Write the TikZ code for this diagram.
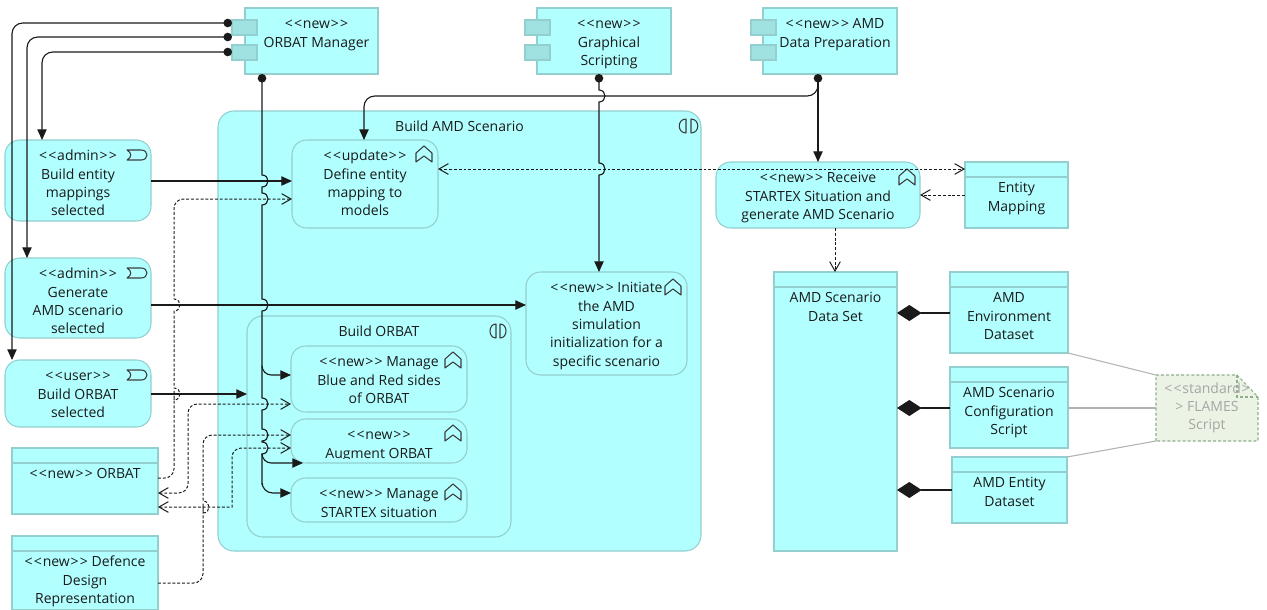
\documentclass[tikz,border=0pt]{standalone}
\usepackage{fontspec}
\setmainfont{Open Sans}
\usetikzlibrary{arrows.meta,calc}
\definecolor{cy}{HTML}{B2FFFF}
\definecolor{bd}{HTML}{93CFCF}
\definecolor{lug}{HTML}{A0E2E2}
\definecolor{ink}{HTML}{1A1A1A}
\definecolor{notef}{HTML}{EAF3E4}
\definecolor{noted}{HTML}{8FAE8F}
\tikzset{
 x=0.75pt,y=-0.75pt,
 sq/.style={draw=bd,fill=cy,line width=0.8pt,inner sep=0pt,outer sep=0pt,text=ink},
 rd/.style={sq,rounded corners=11pt},
 grp/.style={sq,rounded corners=12pt},
 lugbox/.style={draw=bd,fill=lug,line width=0.8pt,inner sep=0pt,outer sep=0pt,minimum width=18.75pt,minimum height=11.25pt},
 flow/.style={draw=ink,line width=0.85pt,-{Triangle[length=8pt,width=7pt]}},
 dotflow/.style={draw=ink,line width=0.85pt,{Circle[length=6.4pt]}-{Triangle[length=8pt,width=7pt]}},
 dep/.style={draw=ink,line width=0.75pt,dash pattern=on 2.2pt off 1.4pt},
 dep1/.style={dep,-{Straight Barb[length=7pt,width=8pt]}},
 dep2/.style={dep,{Straight Barb[length=7pt,width=8pt]}-{Straight Barb[length=7pt,width=8pt]}},
 assoc/.style={draw=ink,line width=0.85pt,-{Diamond[length=18.5pt,width=12pt]}},
 iconln/.style={draw=ink!85,line width=0.8pt,line join=round},
 hdr/.style={draw=bd,line width=0.8pt},
 noteline/.style={draw=black!30,line width=0.8pt},
 noteedge/.style={dash pattern=on 2.2pt off 1.6pt,draw=noted,line width=0.8pt},
}
\newcommand\bx[8]{%
 \pgfmathsetlengthmacro\bw{(#4-#2)*0.75pt}%
 \pgfmathsetlengthmacro\bh{(#5-#3)*0.75pt}%
 \node[#6] (#1) at ({(#2+#4)/2},{(#3+#5)/2}) {\parbox[c][\bh][t]{\bw}{\centering\fontsize{10.5}{13.75}\selectfont\vspace*{#7}\strut #8}};}
\newcommand\st[1]{<\kern1pt<\kern.6pt #1\kern.6pt>\kern1pt>}
\newcommand\hpd[2]{-- ({#1},{#2-6}) .. controls ({#1+8},{#2-6}) and ({#1+8},{#2+6}) .. ({#1},{#2+6})}
\newcommand\hpu[2]{-- ({#1},{#2+6}) .. controls ({#1+8},{#2+6}) and ({#1+8},{#2-6}) .. ({#1},{#2-6})}
\newcommand\fnicon[2]{\draw[iconln,shift={(#1,#2)}] (0,16) -- (0,7) -- (8,0) -- (16,7) -- (16,16) -- (8,10) -- cycle;}
\newcommand\svcicon[2]{\draw[iconln,shift={(#1,#2)}] (0,0) -- (14,0) .. controls (22,0) and (22,10) .. (14,10) -- (0,10) .. controls (5,7) and (5,3) .. (0,0) -- cycle;}
\begin{document}
\begin{tikzpicture}
\useasboundingbox (0,0) rectangle (1267,610);
% components
\bx{mgr}{245}{8}{378}{74}{sq}{6pt}{\leftskip=7.5pt plus 1fil \st{new}\\ORBAT Manager}
\node[lugbox] (mgrA) at (244.5,27.5) {};
\node[lugbox] (mgrB) at (244.5,52.5) {};
\bx{gs}{537}{8}{671}{74}{sq}{6pt}{\leftskip=7.5pt plus 1fil \st{new}\\Graphical\\Scripting}
\node[lugbox] (gsA) at (537.5,27.5) {};
\node[lugbox] (gsB) at (537.5,52.5) {};
\bx{prep}{763}{8}{897}{74}{sq}{6pt}{\leftskip=7.5pt plus 1fil \st{new} AMD\\Data Preparation}
\node[lugbox] (prepA) at (763.5,27.5) {};
\node[lugbox] (prepB) at (763.5,52.5) {};
% group
\bx{amd}{218}{111}{701}{551}{grp}{6pt}{Build AMD Scenario}
\draw[iconln] (686,119) .. controls (677,119) and (677,133) .. (686,133) -- cycle;
\draw[iconln] (691,119) .. controls (700,119) and (700,133) .. (691,133) -- cycle;
\bx{def}{292}{140}{438}{228}{rd}{6pt}{\st{update}\\Define entity\\mapping to\\models}
\fnicon{416}{146}
\bx{init}{526}{272}{687}{375}{rd}{6pt}{\st{new} Initiate\\the AMD\\simulation\\initialization for a\\specific scenario}
\fnicon{665}{279}
\bx{bo}{247}{316}{511}{537}{grp}{6pt}{Build ORBAT}
\draw[iconln] (496,324) .. controls (488,324) and (488,338) .. (496,338) -- cycle;
\draw[iconln] (500,324) .. controls (508,324) and (508,338) .. (500,338) -- cycle;
\bx{blue}{291}{346}{467}{412}{rd}{6pt}{\st{new} Manage\\Blue and Red sides\\of ORBAT}
\fnicon{445}{352}
\bx{aug}{291}{419}{467}{463}{rd}{6pt}{\st{new}\\Augment ORBAT}
\fill[cy] (320,458.5) rectangle (440,462.3);
\fnicon{445}{425}
\bx{star}{291}{478}{467}{522}{rd}{6pt}{\st{new} Manage\\STARTEX situation}
\fnicon{445}{484}
% services
\bx{bes}{5}{140}{151}{221}{rd}{6pt}{\st{admin}\\Build entity\\mappings\\selected}
\svcicon{127}{150}
\bx{gen}{5}{258}{151}{338}{rd}{6pt}{\st{admin}\\Generate\\AMD scenario\\selected}
\svcicon{127}{268}
\bx{bos}{5}{360}{151}{427}{rd}{6pt}{\st{user}\\Build ORBAT\\selected}
\svcicon{127}{370}
% data
\bx{orb}{12}{448}{158}{514}{sq}{13.5pt}{\st{new} ORBAT}
\draw[hdr] (orb.west |- 0,463) -- (orb.east |- 0,463);
\bx{ddr}{12}{536}{158}{610}{sq}{13.5pt}{\st{new} Defence\\Design\\Representation}
\draw[hdr] (ddr.west |- 0,551) -- (ddr.east |- 0,551);
\bx{recv}{716}{162}{920}{228}{rd}{6pt}{\st{new} Receive\\STARTEX Situation and\\generate AMD Scenario}
\fnicon{899}{169}
\bx{emap}{965}{162}{1068}{228}{sq}{13.5pt}{Entity\\Mapping}
\draw[hdr] (emap.west |- 0,177) -- (emap.east |- 0,177);
\bx{ds}{774}{272}{897}{551}{sq}{13.5pt}{AMD Scenario\\Data Set}
\draw[hdr] (ds.west |- 0,287) -- (ds.east |- 0,287);
\bx{env}{950}{272}{1068}{353}{sq}{13.5pt}{AMD\\Environment\\Dataset}
\draw[hdr] (env.west |- 0,287) -- (env.east |- 0,287);
\bx{cfg}{950}{367}{1068}{448}{sq}{13.5pt}{AMD Scenario\\Configuration\\Script}
\draw[hdr] (cfg.west |- 0,382) -- (cfg.east |- 0,382);
\bx{ent}{952}{457}{1067}{523}{sq}{13.5pt}{AMD Entity\\Dataset}
\draw[hdr] (ent.west |- 0,472) -- (ent.east |- 0,472);
% note
\fill[notef] (1156,441) -- (1156,375) -- (1237,375) -- (1258,397) -- (1258,441) -- cycle;
\draw[noteedge] (1156,441) -- (1156,375) -- (1237,375) -- (1258,397) -- (1258,441) -- cycle;
\draw[noteedge] (1237,375) -- (1237,397) -- (1258,397);
\node[inner sep=0pt,outer sep=0pt,minimum width=76.5pt,minimum height=49.5pt,text=black!35,align=center,font=\fontsize{10.5}{13.75}\selectfont] (note) at (1207,408) {<\kern1pt<\kern.6pt standard\kern.6pt>\\> FLAMES\\Script};
\draw[noteline] (env.south east) -- (note.north west);
\draw[noteline] (cfg.east |- note.west) -- (note.west);
\draw[noteline] (ent.north east) -- (note.south west);
% component -> services
\draw[dotflow,rounded corners=8pt] (mgrA.west |- 0,23) -- (12,23) -- (12,0 |- bos.north);
\draw[dotflow,rounded corners=8pt] (mgrA.west |- 0,37) -- (27,37) -- (27,0 |- gen.north);
\draw[dotflow,rounded corners=8pt] (mgrB.west |- 0,52) -- (42,52) -- (42,0 |- bes.north);
% trunk
\draw[dotflow] (262,0 |- mgr.south) \hpd{262}{181} \hpd{262}{199} \hpd{262}{305} \hpd{262}{404} \hpd{262}{435} \hpd{262}{448} -- (262,485) [rounded corners=8pt] -- (262,493) -- (star.west |- 0,493);
\draw[flow,rounded corners=7pt] (262,366) -- (262,375) -- (blue.west |- 0,375);
\draw[flow,rounded corners=7pt] (262,455) -- (262,463) -- (303,463);
% solid flows
\draw[flow] (bes.east |- 0,181) -- (def.west |- 0,181);
\draw[flow] (gen.east |- 0,305) -- (init.west |- 0,305);
\draw[flow] (bos.east |- 0,394) -- (bo.west |- 0,394);
\draw[dotflow] (599,0 |- gs.south) \hpd{599}{96} \hpd{599}{169} -- (599,0 |- init.north);
\draw[dotflow] (prep.south -| recv.north) -- (recv.north);
\draw[flow,rounded corners=8pt] (818,88) -- (818,96) -- (364,96) -- (364,0 |- def.north);
% dashed
\draw[dep1] (orb.east |- 0,478) [rounded corners=7pt] -- (174,478) -- (174,400) [sharp corners] \hpu{174}{394} \hpu{174}{305} [rounded corners=7pt] -- (174,199) -- (def.west |- 0,199);
\draw[dep2] (orb.east |- 0,493) [rounded corners=7pt] -- (188,493) -- (188,404) -- (blue.west |- 0,404);
\draw[dep2] (orb.east |- 0,507) -- (232,507) [rounded corners=7pt] -- (232,448) -- (aug.west |- 0,448);
\draw[dep1] (ddr.east |- 0,583) [rounded corners=7pt] -- (203,583) -- (203,513) [sharp corners] \hpu{203}{507} [rounded corners=7pt] -- (203,435) -- (aug.west |- 0,435);
\draw[dep2] (def.east |- 0,169) -- (emap.west |- 0,169);
\draw[dep1] (emap.west |- 0,195) -- (recv.east |- 0,195);
\draw[dep1] (835,0 |- recv.south) -- (835,0 |- ds.north);
% composition
\draw[assoc] (env.west |- 0,313) -- (ds.east |- 0,313);
\draw[assoc] (cfg.west |- 0,408) -- (ds.east |- 0,408);
\draw[assoc] (ent.west |- 0,490) -- (ds.east |- 0,490);
\end{tikzpicture}
\end{document}
